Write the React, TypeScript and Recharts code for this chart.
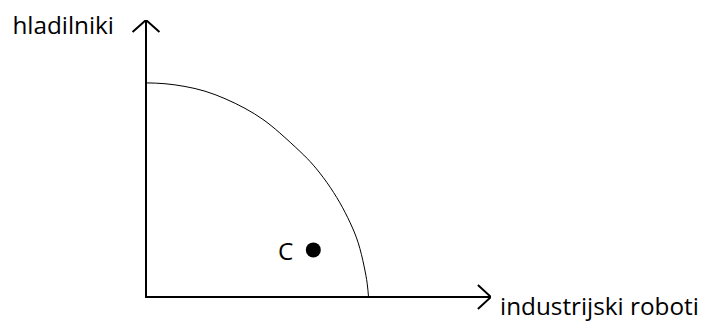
import { ComposedChart, Line, Scatter, XAxis, YAxis, ReferenceDot, LabelList } from 'recharts';

// production possibilities frontier (0..100 units on both axes)
const frontierX = [0, 5.5, 11.3, 17.1, 22.9, 28.7, 33.9, 38.8, 44.6, 48.5, 52.4, 56.2, 59.1, 61.5, 63.2, 64.1, 64.5];
const frontierY = [77.3, 77.0, 76.0, 74.3, 71.6, 68.1, 64.1, 59.2, 52.6, 47.6, 41.4, 34.0, 27.0, 19.6, 11.2, 5.0, 0];

const axisX = [0, 0, 100];
const axisY = [100, 0, 0];

const yArrowX = [-3.9, 0, 3.9];
const yArrowY = [95.7, 100, 95.7];
const xArrowX = [96.2, 100, 96.2];
const xArrowY = [4.3, 0, -4.3];

const pointNames = ['C'];
const pointX = [48.5];
const pointY = [17.0];

const yTitle = 'hladilniki';
const xTitle = 'industrijski roboti';

const zip = (xs: number[], ys: number[]) => xs.map((x, i) => ({ x, y: ys[i] }));

const frontier = zip(frontierX, frontierY);
const axes = zip(axisX, axisY);
const yArrow = zip(yArrowX, yArrowY);
const xArrow = zip(xArrowX, xArrowY);
const points = pointNames.map((name, i) => ({ name, x: pointX[i], y: pointY[i] }));

const font = '"Open Sans", sans-serif';
const fontSize = 24.3;

const Dot = (props: any) => <circle cx={props.cx} cy={props.cy} r={7.5} fill="#000" />;

export default function App() {
    return (
        <div style={{ position: 'absolute', left: 0, top: 0, width: 708, height: 324, background: '#fff' }}>
            <ComposedChart
                width={708}
                height={324}
                margin={{ top: 20, right: 217, left: 111.5, bottom: 4.84 }}
            >
                <XAxis type="number" dataKey="x" domain={[-10, 100]} hide allowDataOverflow />
                <YAxis type="number" dataKey="y" domain={[-8, 100]} hide allowDataOverflow />
                <Line data={axes} dataKey="y" type="linear" stroke="#000" strokeWidth={2} dot={false} isAnimationActive={false} />
                <Line data={yArrow} dataKey="y" type="linear" stroke="#000" strokeWidth={2} dot={false} isAnimationActive={false} />
                <Line data={xArrow} dataKey="y" type="linear" stroke="#000" strokeWidth={2} dot={false} isAnimationActive={false} />
                <Line data={frontier} dataKey="y" type="natural" stroke="#000" strokeWidth={1} dot={false} isAnimationActive={false} />
                <Scatter data={points} dataKey="y" shape={Dot} isAnimationActive={false}>
                    <LabelList
                        dataKey="name"
                        content={(p: any) => (
                            <text x={p.x + p.width / 2 - 20} y={p.y + p.height / 2 + 10} textAnchor="end" fontFamily={font} fontSize={fontSize} fill="#000">
                                {p.value}
                            </text>
                        )}
                    />
                </Scatter>
                <ReferenceDot
                    x={0}
                    y={100}
                    r={0}
                    label={{
                        content: (p: any) => (
                            <text x={p.viewBox.x - 32} y={p.viewBox.y + 14} textAnchor="end" fontFamily={font} fontSize={fontSize} fill="#000">
                                {yTitle}
                            </text>
                        ),
                    }}
                />
                <ReferenceDot
                    x={100}
                    y={0}
                    r={0}
                    label={{
                        content: (p: any) => (
                            <text x={p.viewBox.x + 9} y={p.viewBox.y + 18} textAnchor="start" fontFamily={font} fontSize={fontSize} fill="#000">
                                {xTitle}
                            </text>
                        ),
                    }}
                />
            </ComposedChart>
        </div>
    );
}
